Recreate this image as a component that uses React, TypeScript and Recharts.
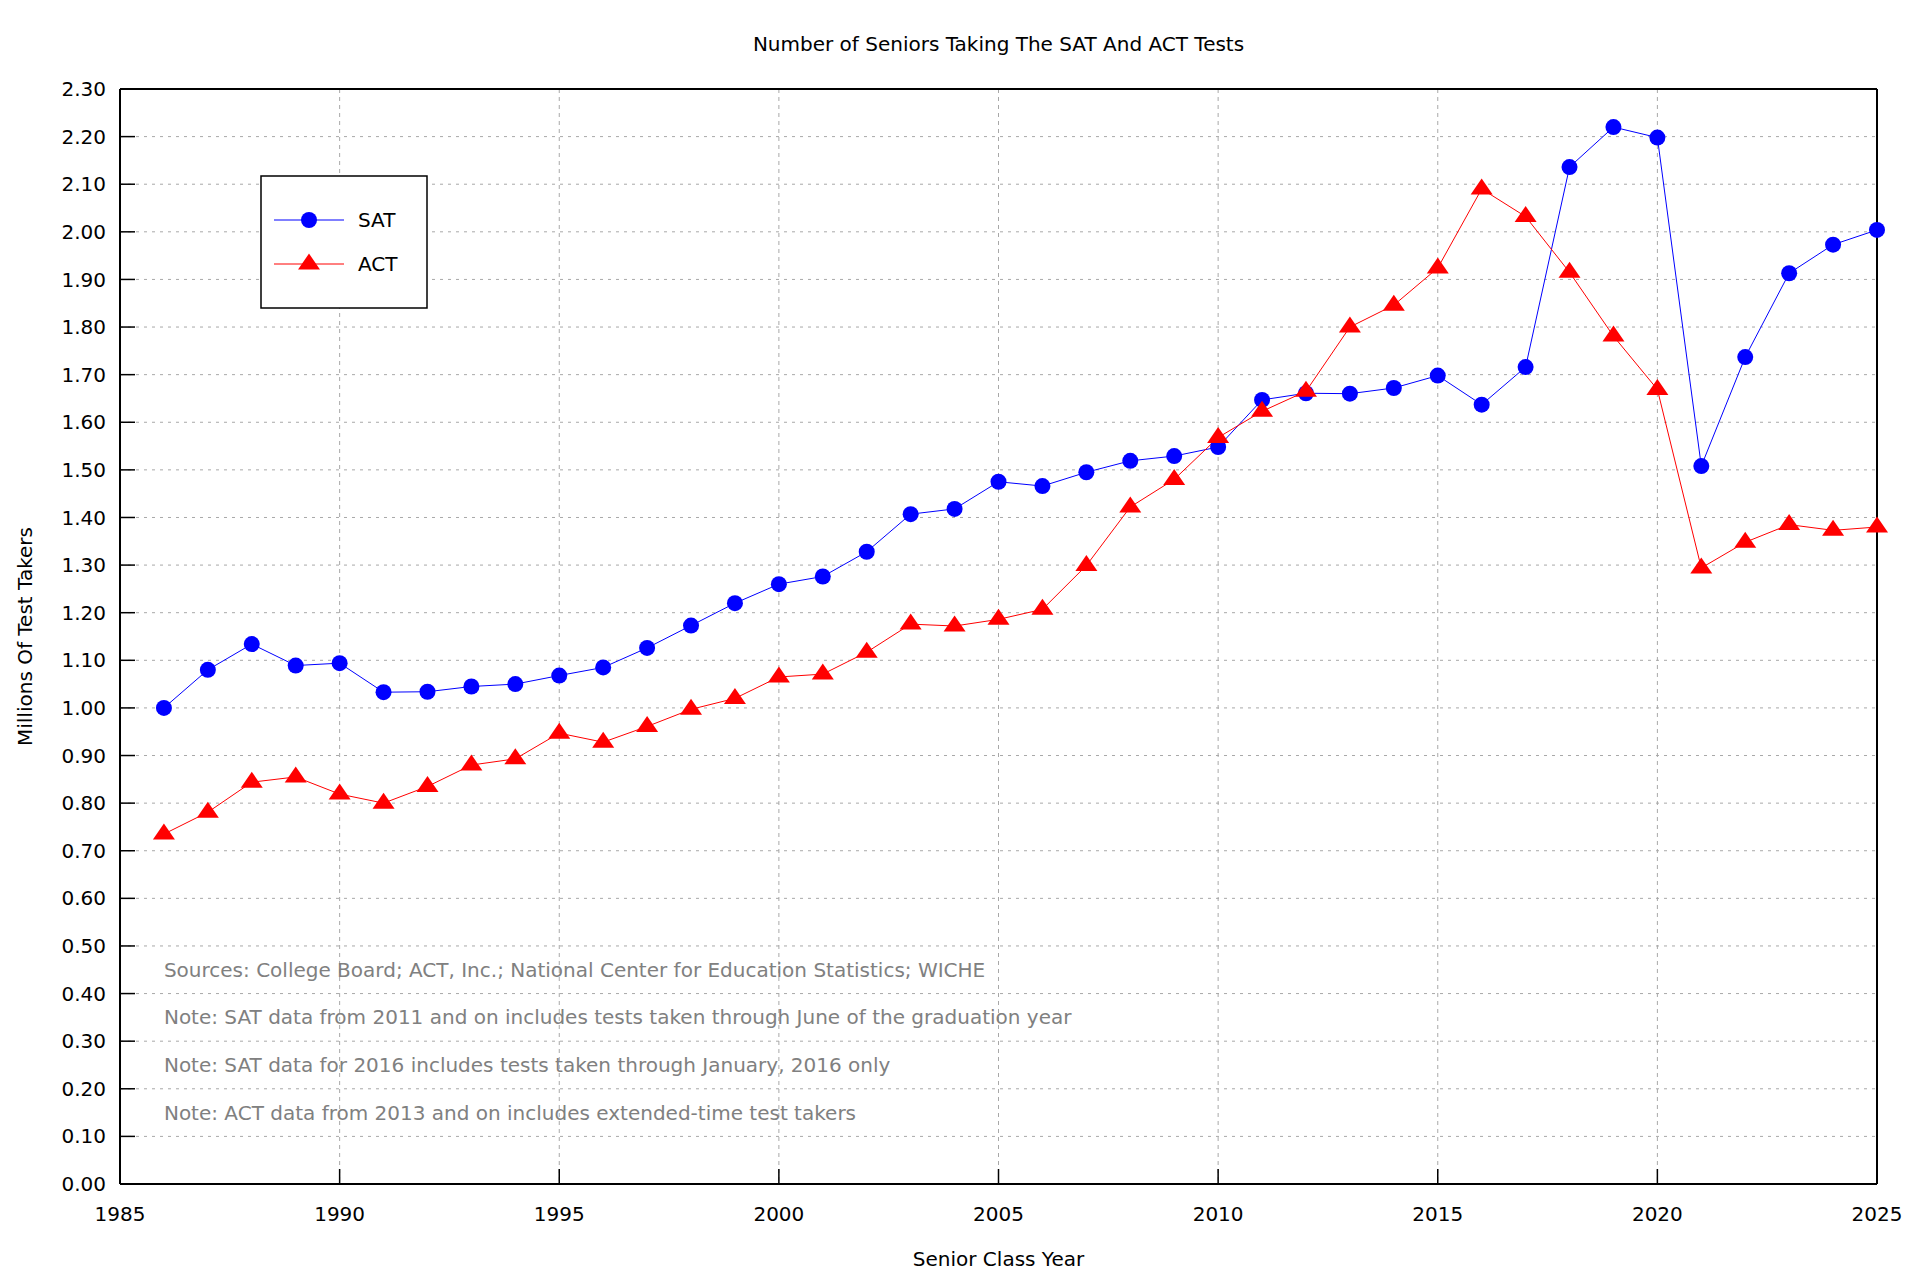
import {
  LineChart,
  Line,
  XAxis,
  YAxis,
  CartesianGrid,
  Legend,
  ReferenceDot,
} from "recharts";

const years = [
  1986, 1987, 1988, 1989, 1990, 1991, 1992, 1993, 1994, 1995, 1996, 1997, 1998,
  1999, 2000, 2001, 2002, 2003, 2004, 2005, 2006, 2007, 2008, 2009, 2010, 2011,
  2012, 2013, 2014, 2015, 2016, 2017, 2018, 2019, 2020, 2021, 2022, 2023, 2024,
  2025,
];

// millions of seniors taking each test
const satTakers = [
  1.0, 1.08, 1.134, 1.089, 1.094, 1.033, 1.034, 1.045, 1.05, 1.068, 1.085,
  1.126, 1.173, 1.22, 1.26, 1.276, 1.328, 1.407, 1.418, 1.475, 1.466, 1.495,
  1.519, 1.529, 1.548, 1.647, 1.661, 1.66, 1.672, 1.698, 1.637, 1.716, 2.136,
  2.22, 2.198, 1.508, 1.737, 1.913, 1.973, 2.004,
];

const actTakers = [
  0.735, 0.781, 0.844, 0.855, 0.819, 0.8, 0.835, 0.88, 0.893, 0.947, 0.928,
  0.961, 0.997, 1.02, 1.065, 1.071, 1.117, 1.176, 1.172, 1.186, 1.207, 1.299,
  1.422, 1.48, 1.568, 1.623, 1.665, 1.8, 1.846, 1.924, 2.09, 2.032, 1.915,
  1.781, 1.669, 1.294, 1.348, 1.385, 1.373, 1.38,
];

const xTicks = [1985, 1990, 1995, 2000, 2005, 2010, 2015, 2020, 2025];
const yTicks = [
  0.0, 0.1, 0.2, 0.3, 0.4, 0.5, 0.6, 0.7, 0.8, 0.9, 1.0, 1.1, 1.2, 1.3, 1.4,
  1.5, 1.6, 1.7, 1.8, 1.9, 2.0, 2.1, 2.2, 2.3,
];

const notes = [
  "Sources: College Board; ACT, Inc.; National Center for Education Statistics; WICHE",
  "Note: SAT data from 2011 and on includes tests taken through June of the graduation year",
  "Note: SAT data for 2016 includes tests taken through January, 2016 only",
  "Note: ACT data from 2013 and on includes extended-time test takers",
];
const noteLevels = [0.45, 0.35, 0.25, 0.15];
const noteYear = 1986;

const seriesOrder = ["SAT", "ACT"];

const data = years.map((year, i) => ({
  year,
  SAT: satTakers[i],
  ACT: actTakers[i],
}));

const BLUE = "#0000ff";
const RED = "#ff0000";
const FONT = 20;

const triangle = (cx: number, cy: number, color: string) => (
  <polygon
    points={`${cx},${cy - 10.5} ${cx + 11},${cy + 5.5} ${cx - 11},${cy + 5.5}`}
    fill={color}
  />
);

const TriangleDot = (props: any) => {
  const { cx, cy } = props;
  if (cx == null || cy == null) return <g />;
  return triangle(cx, cy, RED);
};

const renderLegend = (props: any) => {
  const payload = [...(props.payload || [])].sort(
    (a: any, b: any) =>
      seriesOrder.indexOf(a.dataKey) - seriesOrder.indexOf(b.dataKey)
  );
  return (
    <svg width={168} height={134} style={{ display: "block" }}>
      <rect
        x={1}
        y={1}
        width={166}
        height={132}
        fill="#fff"
        stroke="#000"
        strokeWidth={1.5}
      />
      {payload.map((entry: any, i: number) => {
        const cy = 45 + i * 44;
        const isSat = entry.dataKey === "SAT";
        const color = isSat ? BLUE : RED;
        return (
          <g key={entry.value}>
            <line
              x1={14}
              x2={84}
              y1={cy}
              y2={cy}
              stroke={color}
              strokeWidth={1}
            />
            {isSat ? (
              <circle cx={49} cy={cy} r={8} fill={color} />
            ) : (
              triangle(49, cy, color)
            )}
            <text
              x={98}
              y={cy}
              dominantBaseline="central"
              fontSize={FONT}
              fill="#000"
            >
              {entry.value}
            </text>
          </g>
        );
      })}
    </svg>
  );
};

const axisLine = { stroke: "#000", strokeWidth: 2 };
const tickLine = { stroke: "#000", strokeWidth: 1.5 };

const App = () => {
  return (
    <div
      style={{
        position: "absolute",
        left: 0,
        top: 0,
        width: 1920,
        height: 1280,
        background: "#fff",
        fontFamily: "'DejaVu Sans', sans-serif",
      }}
    >
      <LineChart
        width={1920}
        height={1280}
        data={data}
        margin={{ top: 88, right: 42, bottom: 0, left: 0 }}
      >
        <CartesianGrid
          horizontal
          vertical={false}
          stroke="#a8a8a8"
          strokeDasharray="3 5"
        />
        <CartesianGrid
          horizontal={false}
          vertical
          stroke="#a8a8a8"
          strokeDasharray="4 4"
        />

        <XAxis
          dataKey="year"
          type="number"
          domain={[1985, 2025]}
          ticks={xTicks}
          interval={0}
          height={96}
          tickSize={-15}
          tickMargin={38}
          tick={{ fill: "#000", fontSize: FONT }}
          axisLine={axisLine}
          tickLine={tickLine}
          label={{
            value: "Senior Class Year",
            position: "insideTop",
            offset: 68,
            fill: "#000",
            fontSize: FONT,
          }}
        />
        <XAxis
          xAxisId="top"
          orientation="top"
          dataKey="year"
          type="number"
          domain={[1985, 2025]}
          ticks={xTicks}
          interval={0}
          height={1}
          tickSize={-15}
          tick={false}
          axisLine={axisLine}
          tickLine={tickLine}
          label={{
            value: "Number of Seniors Taking The SAT And ACT Tests",
            position: "top",
            offset: 37,
            fill: "#000",
            fontSize: FONT,
          }}
        />
        <YAxis
          type="number"
          domain={[0, 2.3]}
          ticks={yTicks}
          interval={0}
          width={120}
          tickSize={-15}
          tickMargin={29}
          tickFormatter={(v: number) => v.toFixed(2)}
          tick={{ fill: "#000", fontSize: FONT }}
          axisLine={axisLine}
          tickLine={tickLine}
          label={{
            value: "Millions Of Test Takers",
            angle: -90,
            position: "insideLeft",
            offset: 25,
            fill: "#000",
            fontSize: FONT,
            style: { textAnchor: "middle" },
          }}
        />
        <YAxis
          yAxisId="right"
          orientation="right"
          type="number"
          domain={[0, 2.3]}
          ticks={yTicks}
          interval={0}
          width={1}
          tickSize={-15}
          tick={false}
          axisLine={axisLine}
          tickLine={tickLine}
        />

        {notes.map((note, i) => (
          <ReferenceDot
            key={note}
            x={noteYear}
            y={noteLevels[i]}
            r={0}
            fill="none"
            stroke="none"
            label={{
              value: note,
              position: "right",
              offset: 0,
              fill: "#808080",
              fontSize: FONT,
            }}
          />
        ))}

        <Line
          dataKey="SAT"
          name="SAT"
          stroke={BLUE}
          strokeWidth={1}
          dot={{ r: 8, fill: BLUE, stroke: "none" }}
          activeDot={false}
          isAnimationActive={false}
        />
        <Line
          dataKey="ACT"
          name="ACT"
          stroke={RED}
          strokeWidth={1}
          dot={TriangleDot}
          activeDot={false}
          isAnimationActive={false}
        />

        <Legend
          layout="horizontal"
          verticalAlign="middle"
          align="center"
          wrapperStyle={{ left: 260, top: 175, width: 168, height: 134 }}
          content={renderLegend}
        />
      </LineChart>
    </div>
  );
};

export default App;
